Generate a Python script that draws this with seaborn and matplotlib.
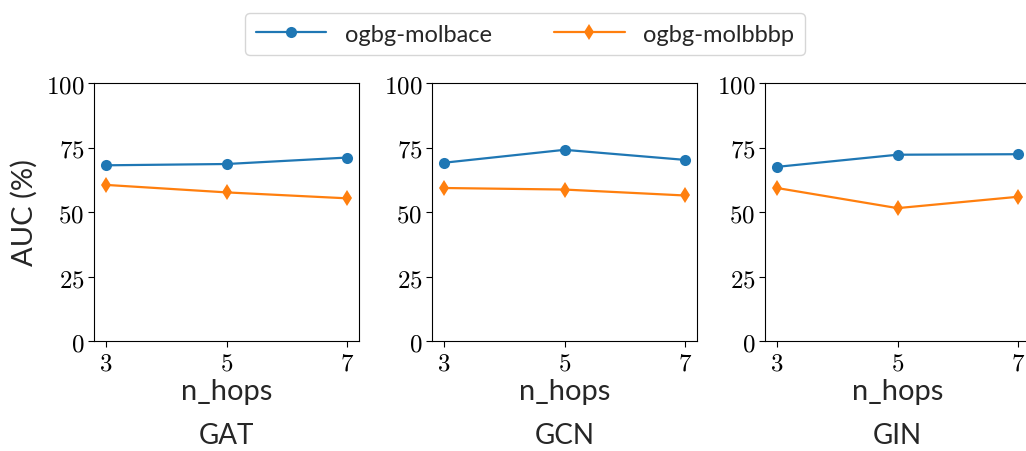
import matplotlib
matplotlib.use("Agg")
import matplotlib.pyplot as plt
import seaborn as sns
import pandas as pd
from matplotlib.ticker import FuncFormatter

sns.set_style("ticks")
plt.rcParams['font.family'] = ['Lato', 'DejaVu Sans']
plt.rcParams['mathtext.fontset'] = 'cm'

n_hops = [3, 5, 7]
models = ["GAT", "GCN", "GIN"]
datasets = ["ogbg-molbace", "ogbg-molbbbp"]
gat_bace = [68.1, 68.6, 71.1]
gat_bbbp = [60.5, 57.6, 55.3]
gcn_bace = [69.1, 74.1, 70.2]
gcn_bbbp = [59.3, 58.7, 56.4]
gin_bace = [67.5, 72.2, 72.4]
gin_bbbp = [59.3, 51.5, 55.9]

values = {
    "GAT": (gat_bace, gat_bbbp),
    "GCN": (gcn_bace, gcn_bbbp),
    "GIN": (gin_bace, gin_bbbp),
}

rows = []
for m in models:
    for ds, vals in zip(datasets, values[m]):
        for h, v in zip(n_hops, vals):
            rows.append({"model": m, "dataset": ds, "n_hops": h, "auc": v})
df = pd.DataFrame(rows)

fig = plt.figure(figsize=(10.26, 4.52), dpi=100)
lefts = [94 / 1026, 432 / 1026, 765 / 1026]
w = 265 / 1026
bottom = (452 - 342) / 452
h = 258 / 452
palette = {"ogbg-molbace": "#1f77b4", "ogbg-molbbbp": "#ff7f0e"}
markers = {"ogbg-molbace": "o", "ogbg-molbbbp": "d"}

fmt = FuncFormatter(lambda v, p: r"$%d$" % v)
for i, m in enumerate(models):
    ax = fig.add_axes([lefts[i], bottom, w, h])
    sub = df[df.model == m]
    for ds in datasets:
        d = sub[sub.dataset == ds]
        sns.lineplot(data=d, x="n_hops", y="auc", ax=ax, color=palette[ds],
                     marker=markers[ds], markersize=8, markeredgewidth=0,
                     linewidth=1.6, label=ds, legend=False)
    ax.set_ylim(0, 100)
    ax.set_xticks(n_hops)
    ax.set_yticks([0, 25, 50, 75, 100])
    ax.xaxis.set_major_formatter(fmt)
    ax.yaxis.set_major_formatter(fmt)
    ax.tick_params(labelsize=18, length=4, width=0.8, colors='black', pad=3)
    for s in ax.spines.values():
        s.set_visible(True)
        s.set_color('black')
        s.set_linewidth(0.8)
    ax.set_xlabel("n_hops", fontsize=21, labelpad=3)
    ax.set_ylabel("AUC (%)" if i == 0 else "", fontsize=21, labelpad=6)
    ax.text(0.5, -0.315, m, transform=ax.transAxes, ha='center', va='top', fontsize=20)
    if i == 0:
        handles, labels = ax.get_legend_handles_labels()

fig.legend(handles, labels, loc='center', bbox_to_anchor=(525 / 1026, 1 - 35 / 452),
           ncol=2, fontsize=17, frameon=True, columnspacing=2.6, handlelength=3,
           markerscale=1.0, borderpad=0.45)

fig.savefig("out.png", dpi=100)
